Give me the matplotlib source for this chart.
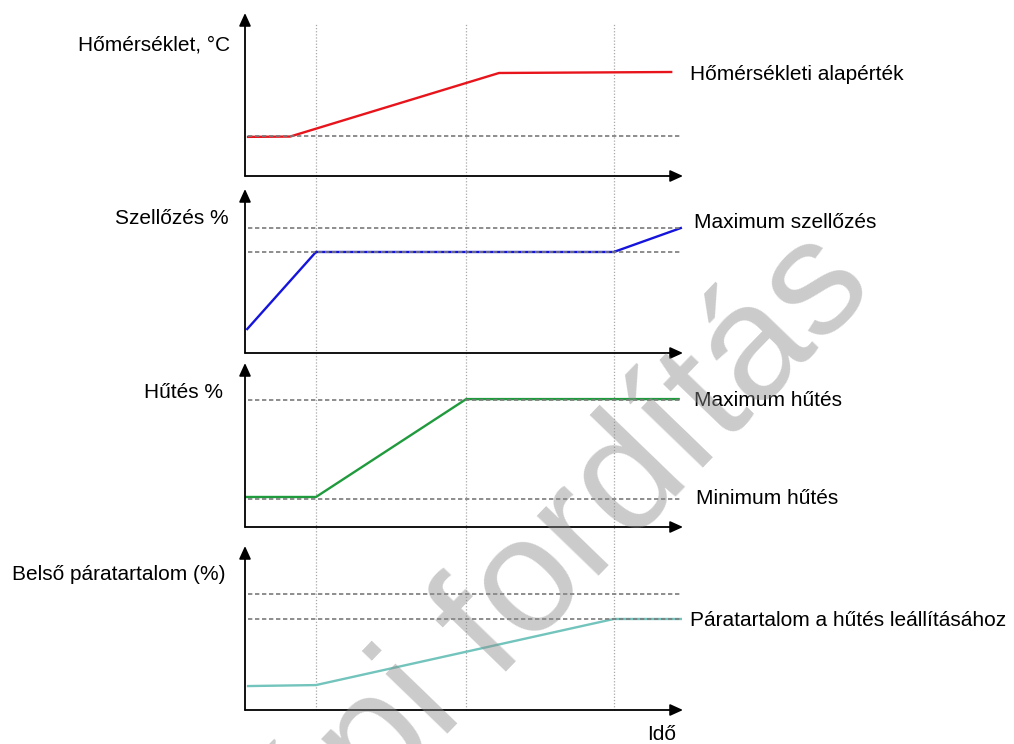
#!/usr/bin/env python3
"""Four stacked control-sequence panels: temperature, ventilation, cooling, humidity."""

import matplotlib

matplotlib.use("Agg")
import matplotlib.pyplot as plt

plt.rcParams["font.family"] = ["Liberation Sans", "DejaVu Sans"]

W, H = 1014, 744

# time axis runs 0..100 across each panel, values 0..100 from x-axis to arrow tip
event_times = [16.2, 50.5, 84.2]
ref_span = [0.7, 99.5]

temp_t = [0.7, 10.3, 58.0, 97.3]
temp_v = [24.0, 24.2, 63.2, 63.8]
temp_refs = [24.5]

vent_t = [0.5, 16.2, 84.2, 99.5]
vent_v = [14.6, 61.6, 61.6, 76.2]
vent_refs = [76.2, 61.6]

cool_t = [0.3, 16.2, 50.5, 99.0]
cool_v = [18.3, 18.3, 78.0, 78.0]
cool_refs = [77.4, 17.1]

hum_t = [0.7, 16.2, 84.2, 99.5]
hum_v = [14.6, 15.2, 55.5, 55.5]
hum_refs = [70.7, 55.5]

y_labels = ["Hőmérséklet, °C", "Szellőzés %", "Hűtés %", "Belső páratartalom (%)"]
right_labels = [
    ("Hőmérsékleti alapérték", 690, 73),
    ("Maximum szellőzés", 694, 221),
    ("Maximum hűtés", 694, 398),
    ("Minimum hűtés", 696, 497),
    ("Páratartalom a hűtés leállításához", 690, 618),
]
x_label = "Idő"
watermark = "Gépi fordítás"


def px(x, y):
    return x / W, 1 - y / H


panels = [
    # (top tip px, x-axis px, ylabel right edge, ylabel y)
    (13, 176, 230, 43),
    (189, 353, 229, 217),
    (363, 527, 223, 391),
    (546, 710, 226, 572),
]
series = [
    (temp_t, temp_v, temp_refs, "#e8141c"),
    (vent_t, vent_v, vent_refs, "#1414dc"),
    (cool_t, cool_v, cool_refs, "#1f9a3c"),
    (hum_t, hum_v, hum_refs, "#72c4bc"),
]

fig = plt.figure(figsize=(W / 100, H / 100), dpi=100)
x0, x1 = 245, 683

# background axes for the event lines that cross all panels
ax_bg = fig.add_axes([x0 / W, 0, (x1 - x0) / W, 1])
ax_bg.set_xlim(0, 100)
ax_bg.set_ylim(0, 1)
ax_bg.axis("off")
ax_bg.vlines(event_times, 1 - 710 / H, 1 - 23 / H, colors="#a8a8a8",
             linestyles=(0, (1, 1.5)), linewidth=0.9)

for (top, bottom, lab_x, lab_y), (t, v, refs, color), ylab in zip(panels, series, y_labels):
    ax = fig.add_axes([x0 / W, 1 - bottom / H, (x1 - x0) / W, (bottom - top) / H])
    ax.set_xlim(0, 100)
    ax.set_ylim(0, 100)
    ax.patch.set_visible(False)
    for s in ax.spines.values():
        s.set_visible(False)
    ax.set_xticks([])
    ax.set_yticks([])
    ax.plot(t, v, color=color, lw=1.7, solid_joinstyle="miter", zorder=2)
    for r in refs:
        ax.plot(ref_span, [r, r], color="#7a7a7a", lw=1.2,
                linestyle=(0, (2.6, 1.6)), zorder=3)
    arrow = dict(arrowstyle="-|>,head_length=0.55,head_width=0.25", color="black",
                 lw=1.3, shrinkA=0, shrinkB=0, mutation_scale=14)
    ax.annotate("", xy=(1, 0), xytext=(0, 0), xycoords="axes fraction",
                textcoords="axes fraction", arrowprops=arrow)
    ax.annotate("", xy=(0, 1), xytext=(0, 0), xycoords="axes fraction",
                textcoords="axes fraction", arrowprops=arrow)
    fig.text(*px(lab_x, lab_y), ylab, ha="right", va="center_baseline", fontsize=15)

for text, lx, ly in right_labels:
    fig.text(*px(lx, ly), text, ha="left", va="center_baseline", fontsize=15)

fig.text(*px(662, 733), x_label, ha="center", va="center_baseline", fontsize=15)

fig.text(*px(550, 626), watermark, ha="center", va="baseline", rotation=46,
         rotation_mode="anchor", fontsize=118, color="#8c8c8c", alpha=0.45,
         zorder=10)

fig.savefig("out.png", dpi=100)
